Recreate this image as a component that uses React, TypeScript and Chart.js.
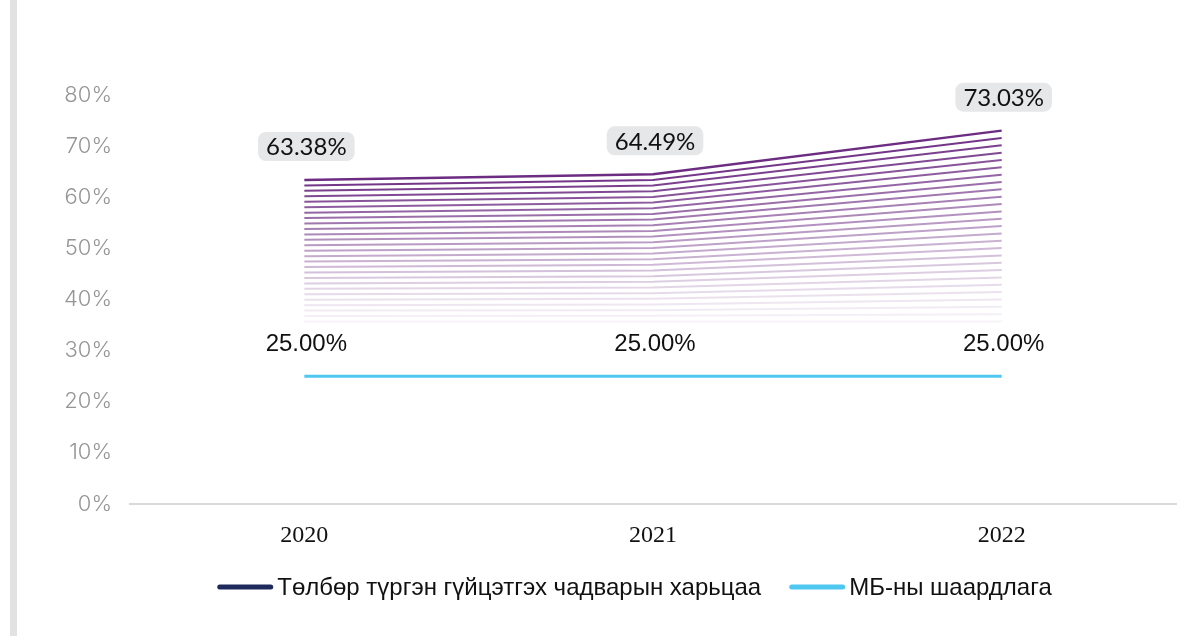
import React, { useEffect, useRef } from "react";
import { Chart, registerables } from "chart.js";

Chart.register(...registerables);

const categories = ["2020", "2021", "2022"];
const liquidityRatio = [63.38, 64.49, 73.03];
const requirement = [25, 25, 25];
const seriesNames = ["Төлбөр түргэн гүйцэтгэх чадварын харьцаа", "МБ-ны шаардлага"];
const seriesLegendColors = ["#1f2a5c", "#4ec8f0"];

const Y_MIN = 0;
const Y_MAX = 80;
const Y_STEP = 10;

const FADE_FLOOR = 35.7;
const FADE_LINES = 27;

export default function App() {
  const ref = useRef<HTMLCanvasElement | null>(null);

  useEffect(() => {
    if (!ref.current) return;

    const fadeSets: any[] = [];
    for (let k = 0; k < FADE_LINES; k++) {
      const f = k / (FADE_LINES - 1);
      const alpha = 0.06 + 0.94 * Math.pow(f, 1.3);
      fadeSets.push({
        label: k === FADE_LINES - 1 ? seriesNames[0] : "",
        data: liquidityRatio.map((v) => FADE_FLOOR + (v - FADE_FLOOR) * f),
        borderColor: `rgba(108, 44, 130, ${alpha.toFixed(3)})`,
        borderWidth: k === FADE_LINES - 1 ? 2.4 : 2,
        pointRadius: 0,
        tension: 0,
        fill: false,
      });
    }

    const blueSet = {
      label: seriesNames[1],
      data: requirement,
      borderColor: "#4ec8f0",
      borderWidth: 3,
      pointRadius: 0,
      tension: 0,
      fill: false,
    };

    const labelPlugin = {
      id: "valueLabels",
      afterDatasetsDraw(chart: any) {
        const ctx = chart.ctx;
        const mainMeta = chart.getDatasetMeta(FADE_LINES - 1);
        const blueMeta = chart.getDatasetMeta(FADE_LINES);
        ctx.save();
        ctx.font = "24px Lato, 'Open Sans', sans-serif";
        ctx.textAlign = "center";
        ctx.textBaseline = "middle";
        mainMeta.data.forEach((pt: any, i: number) => {
          const txt = liquidityRatio[i].toFixed(2) + "%";
          const cx = pt.x + 2;
          const cy = pt.y - 33.5;
          const w = ctx.measureText(txt).width + 16;
          const h = 29;
          ctx.fillStyle = "#e6e7e9";
          ctx.beginPath();
          ctx.roundRect(cx - w / 2, cy - h / 2, w, h, 8);
          ctx.fill();
          ctx.fillStyle = "#111111";
          ctx.fillText(txt, cx, cy + 1);
        });
        ctx.font = "24px 'Liberation Sans', Arial, sans-serif";
        blueMeta.data.forEach((pt: any, i: number) => {
          const txt = requirement[i].toFixed(2) + "%";
          ctx.fillStyle = "#111111";
          ctx.fillText(txt, pt.x + 2, pt.y - 32);
        });
        ctx.restore();
      },
      afterDraw(chart: any) {
        const ctx = chart.ctx;
        ctx.save();
        ctx.font = "24px 'Liberation Sans', Arial, sans-serif";
        ctx.textBaseline = "middle";
        ctx.textAlign = "left";
        const sw = 56;
        const gapText = 4;
        const gapItem = 28;
        const widths = seriesNames.map((t) => ctx.measureText(t).width);
        const total = widths.reduce((a, w) => a + sw + gapText + w, 0) + gapItem;
        let x = 634.5 - total / 2;
        const y = 587;
        seriesNames.forEach((t, i) => {
          ctx.fillStyle = seriesLegendColors[i];
          ctx.beginPath();
          ctx.roundRect(x, y - 2.5, sw, 5, 2.5);
          ctx.fill();
          ctx.fillStyle = "#111111";
          ctx.fillText(t, x + sw + gapText, y + 1);
          x += sw + gapText + widths[i] + gapItem;
        });
        ctx.restore();
      },
    };

    const chart = new Chart(ref.current, {
      type: "line",
      data: {
        labels: categories,
        datasets: [...fadeSets, blueSet],
      },
      options: {
        responsive: false,
        animation: false,
        layout: { padding: { left: 0, right: 13, top: 95, bottom: 69 } },
        scales: {
          x: {
            type: "category",
            offset: true,
            grid: { display: false, drawTicks: false },
            border: { display: true, color: "#d9d9d9", width: 2 },
            ticks: {
              font: { family: "'Liberation Serif', 'Times New Roman', serif", size: 24 },
              color: "#111111",
              padding: 17,
            },
            afterFit: (s: any) => {
              s.height = 63;
            },
          },
          y: {
            min: Y_MIN,
            max: Y_MAX,
            grid: { display: false, drawTicks: false },
            border: { display: false },
            ticks: {
              stepSize: Y_STEP,
              padding: 18,
              color: "#959595",
              font: { family: "Inter, Lato, sans-serif", size: 22, weight: "300" as any },
              callback: (v: any) => v + "%",
            },
            afterFit: (s: any) => {
              s.width = 130;
            },
          },
        },
        plugins: {
          tooltip: { enabled: false },
          legend: { display: false },
        },
      },
      plugins: [labelPlugin],
    });

    return () => chart.destroy();
  }, []);

  return (
    <div style={{ position: "fixed", left: 0, top: 0, width: 1189, height: 636, background: "#ffffff" }}>
      <div style={{ position: "absolute", left: 10, top: 0, width: 7, height: 636, background: "#e2e2e2" }} />
      <canvas ref={ref} width={1189} height={636} style={{ position: "absolute", left: 0, top: 0, width: 1189, height: 636 }} />
    </div>
  );
}
